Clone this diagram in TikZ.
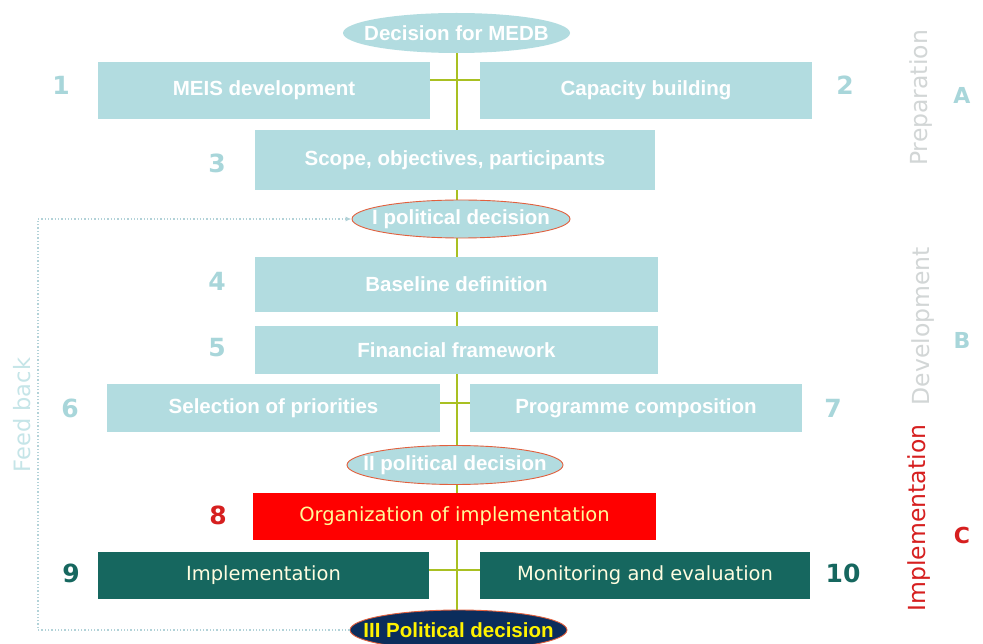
\documentclass[tikz,border=0pt]{standalone}
\usepackage{fontspec}
\setmainfont{Liberation Sans}
\newfontfamily\dv{DejaVu Sans}
\usetikzlibrary{shapes.geometric,arrows.meta,backgrounds}
\definecolor{lblue}{HTML}{B2DCE0}
\definecolor{numblue}{HTML}{A8D6DA}
\definecolor{teal}{HTML}{16675F}
\definecolor{spine}{HTML}{A9C022}
\definecolor{redline}{HTML}{E2603E}
\definecolor{navy}{HTML}{0B2D5C}
\definecolor{fbcol}{HTML}{B2D2D8}
\definecolor{sidegray}{HTML}{D2D6D6}
\definecolor{cred}{HTML}{D61F1F}
\tikzset{
  stage/.style={rectangle, inner sep=0pt, font=\bfseries\fontsize{20.5}{22}\selectfont},
  lbox/.style={stage, fill=lblue, text=white},
  tbox/.style={stage, fill=teal, text=white!88!yellow, font=\dv\fontsize{19.5}{21}\selectfont},
  decis/.style={ellipse, inner sep=0pt},
  dlabel/.style={inner sep=0pt, font=\bfseries\fontsize{20.5}{22}\selectfont},
  num/.style={font=\dv\bfseries\fontsize{25}{27}\selectfont},
  phase/.style={rotate=90, font=\dv\fontsize{23.5}{25}\selectfont},
  letter/.style={font=\dv\bfseries\fontsize{22}{24}\selectfont},
  fb/.style={fbcol, line width=1.3pt, dotted},
}
\begin{document}
\begin{tikzpicture}[x=1pt,y=-1pt]
\useasboundingbox (0,0) rectangle (983,644);
\clip (0,0) rectangle (983,644);

% decision ellipses (fixed size, labels set on top)
\node[decis, fill=lblue, minimum width=227pt, minimum height=40pt] (d0) at (456.5,33) {};
\node[decis, fill=lblue, draw=redline, line width=0.9pt, minimum width=218pt, minimum height=38pt] (d1) at (461,219) {};
\node[decis, fill=lblue, draw=redline, line width=0.9pt, minimum width=216pt, minimum height=39pt] (d2) at (455,465) {};
\node[decis, fill=navy, draw=redline, line width=0.9pt, minimum width=217pt, minimum height=40pt] (d3) at (458.5,630) {};
\node[dlabel, text=white] (t0) at (d0) {Decision for MEDB};
\node[dlabel, text=white] (t1) at (d1) {I political decision};
\node[dlabel, text=white] (t2) at (d2) {II political decision};
\node[dlabel, text=yellow] (t3) at (d3) {III Political decision};

% stages
\node[lbox, minimum width=332pt, minimum height=57pt] (b1) at (264,90.5) {MEIS development};
\node[lbox, minimum width=332pt, minimum height=57pt] (b2) at (646,90.5) {Capacity building};
\node[lbox, minimum width=400pt, minimum height=60pt] (b3) at (455,160) {Scope, objectives, participants};
\node[lbox, minimum width=403pt, minimum height=55pt] (b4) at (456.5,284.5) {Baseline definition};
\node[lbox, minimum width=403pt, minimum height=48pt] (b5) at (456.5,350) {Financial framework};
\node[lbox, minimum width=333pt, minimum height=48pt] (b6) at (273.5,408) {Selection of priorities};
\node[lbox, minimum width=332pt, minimum height=48pt] (b7) at (636,408) {Programme composition};
\node[stage, fill=red, text=yellow!40!white, minimum width=403pt, minimum height=47pt, font=\dv\fontsize{19.5}{21}\selectfont] (b8) at (454.5,516.5) {Organization of implementation};
\node[tbox, minimum width=331pt, minimum height=47pt] (b9) at (263.5,575.5) {Implementation};
\node[tbox, minimum width=330pt, minimum height=47pt] (b10) at (645,575.5) {Monitoring and evaluation};

% spine and cross bars behind the shapes
\coordinate (x1) at (457,80);
\coordinate (x2) at (457,403);
\coordinate (x3) at (457,570);
\begin{scope}[on background layer]
  \fill[white] (0,0) rectangle (983,644);
  \draw[spine, line width=2.2pt] (d0.south -| x1) -- (d3.north -| x1);
  \draw[spine, line width=2.2pt] (b1.east |- x1) -- (b2.west |- x1);
  \draw[spine, line width=2.2pt] (b6.east |- x2) -- (b7.west |- x2);
  \draw[spine, line width=2.2pt] (b9.east |- x3) -- (b10.west |- x3);
\end{scope}

% feedback loop
\coordinate (fbt) at (38,219);
\draw[fb, -{Latex[length=6pt,width=5pt]}] (d3.west) -| (fbt) -- (d1.west);
\node[phase, text=lblue!75!white, font=\dv\fontsize{22.5}{24}\selectfont] (fbl) at (22,415) {Feed back};

% step numbers
\node[num, text=numblue] (n1) at (61,85) {1};
\node[num, text=numblue] (n2) at (845,85) {2};
\node[num, text=numblue] (n3) at (217,163) {3};
\node[num, text=numblue] (n4) at (217,281) {4};
\node[num, text=numblue] (n5) at (217,348) {5};
\node[num, text=numblue] (n6) at (70,408) {6};
\node[num, text=numblue] (n7) at (833,408) {7};
\node[num, text=cred] (n8) at (218,515) {8};
\node[num, text=teal] (n9) at (71,573) {9};
\node[num, text=teal] (n10) at (843,573) {10};

% phases
\node[phase, text=sidegray] (pa) at (921,98) {Preparation};
\node[letter, text=numblue] (la) at (962,95) {A};
\node[phase, text=sidegray] (pb) at (923,326) {Development};
\node[letter, text=numblue] (lb) at (962,340) {B};
\node[phase, text=cred] (pc) at (919,518) {Implementation};
\node[letter, text=cred] (lc) at (962,535) {C};
\end{tikzpicture}
\end{document}
